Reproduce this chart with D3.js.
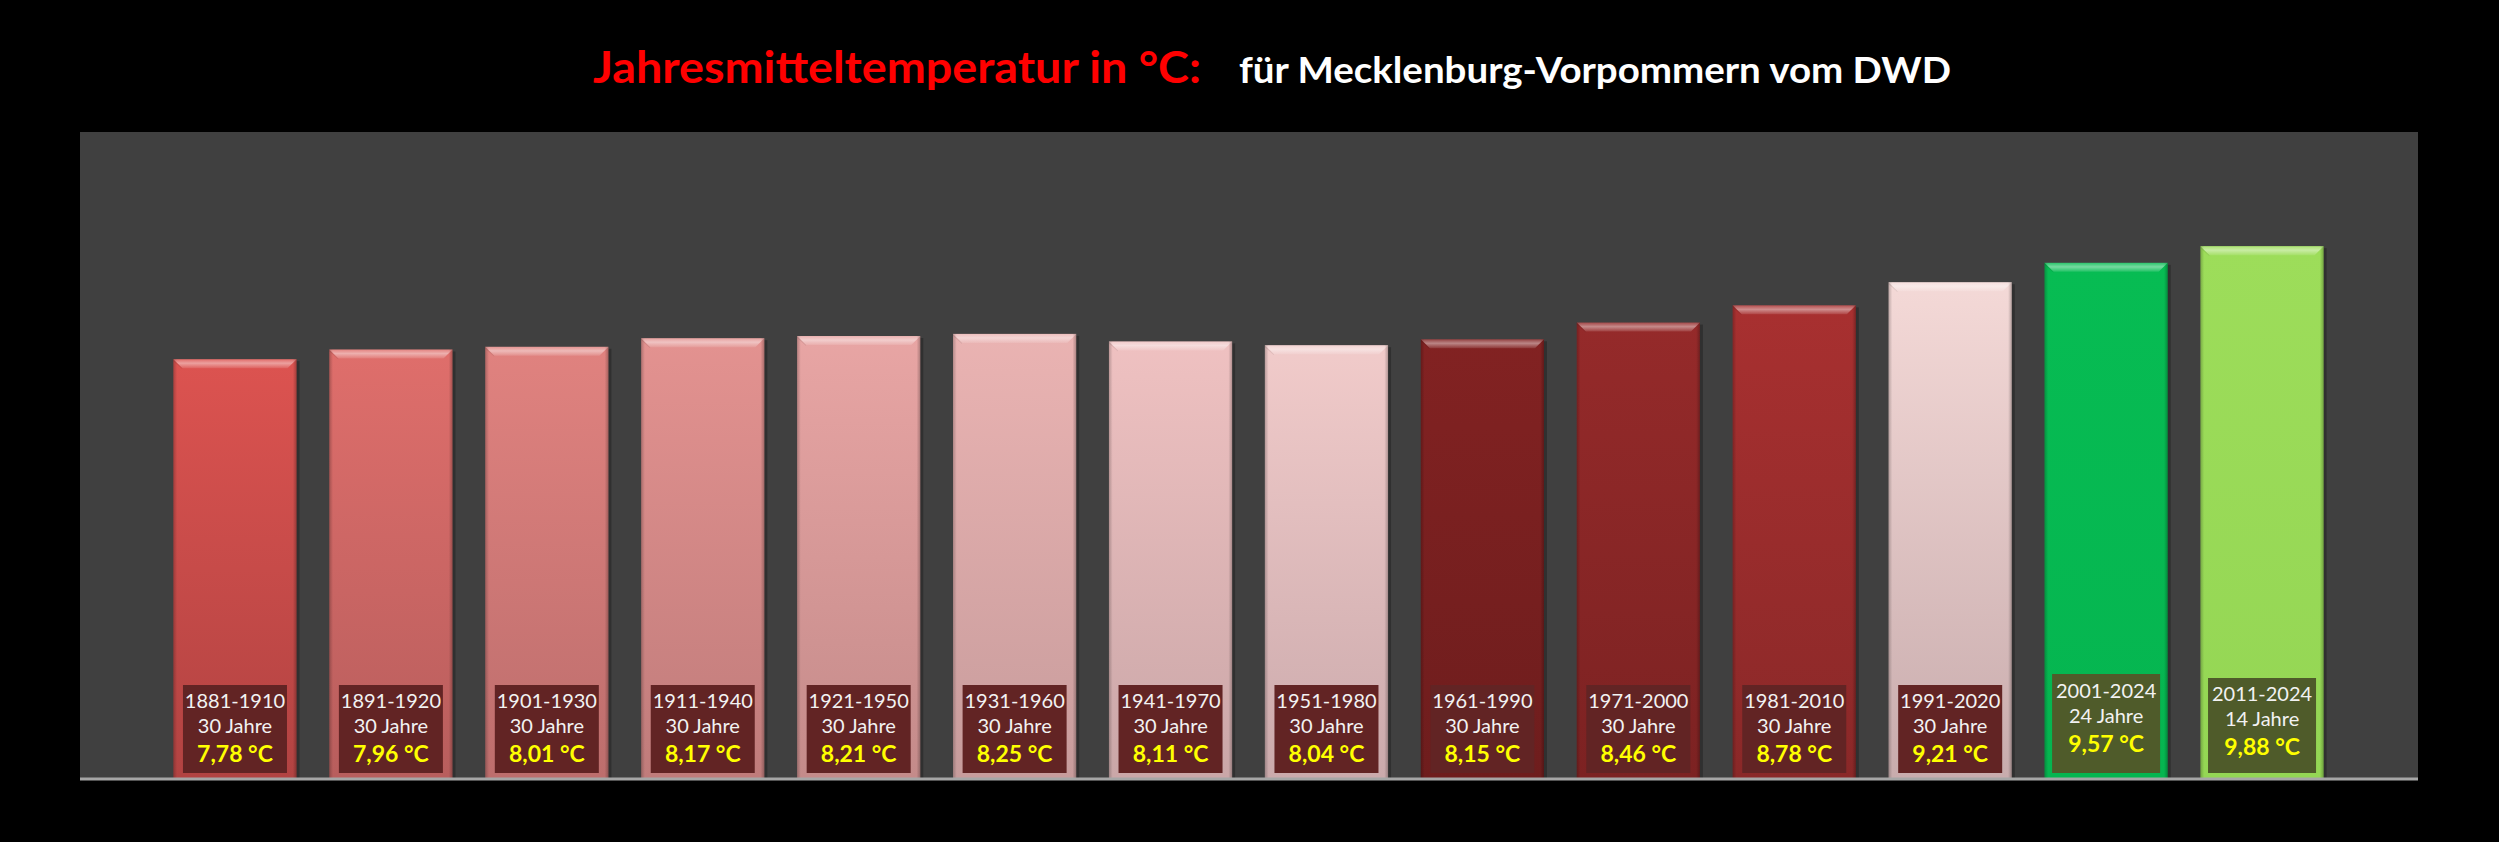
<!DOCTYPE html>
<html><head><meta charset="utf-8">
<script src="https://cdn.jsdelivr.net/npm/d3@7"></script>
<style>html,body{margin:0;padding:0;background:#000;}svg{display:block;}</style>
</head><body><div id="chart"></div>
<script>
const periods = ["1881-1910","1891-1920","1901-1930","1911-1940","1921-1950","1931-1960","1941-1970","1951-1980","1961-1990","1971-2000","1981-2010","1991-2020","2001-2024","2011-2024"];
const years = [30,30,30,30,30,30,30,30,30,30,30,30,24,14];
const values = [7.78,7.96,8.01,8.17,8.21,8.25,8.11,8.04,8.15,8.46,8.78,9.21,9.57,9.88];
const yTicks = [0,12];
const titleMain = "Jahresmitteltemperatur in °C:";
const titleSub = "für Mecklenburg-Vorpommern vom DWD";

const topColors = ["#DC5350","#DF6E6B","#E0827F","#E39290","#E8A5A4","#EAB3B2","#EFC1C1","#F1CBCA","#822222","#952A2A","#A83030","#F4D9D7","#07BC53","#9DDD5A"];
const botColors = ["#B24342","#B85E5D","#BD6E6D","#C07C7B","#C48B8A","#C79C9C","#CAA7A8","#CBAAAC","#6E1D1D","#7C2222","#8A2828","#C8ACAD","#05B550","#94D654"];

const W = 2499, H = 842;
const fmt = v => d3.format(".2f")(v).replace(".", ",") + " °C";

const svg = d3.select("#chart").append("svg").attr("width", W).attr("height", H);
svg.append("rect").attr("width", W).attr("height", H).attr("fill", "#000");

const plot = {x0: 80, x1: 2418, y0: 132, y1: 778};
svg.append("rect").attr("x", plot.x0).attr("y", plot.y0)
  .attr("width", plot.x1 - plot.x0).attr("height", plot.y1 - plot.y0).attr("fill", "#404040");

const x = d3.scaleBand().domain(periods).range([157, 2340]).paddingInner(0.21).paddingOuter(0.105);
const y = d3.scaleLinear().domain(d3.extent(yTicks)).range([plot.y1, plot.y0]);

const defs = svg.append("defs");
periods.forEach((p, i) => {
  const g = defs.append("linearGradient").attr("id", "g" + i).attr("x1", 0).attr("y1", 0).attr("x2", 0).attr("y2", 1);
  g.append("stop").attr("offset", "0%").attr("stop-color", topColors[i]);
  g.append("stop").attr("offset", "100%").attr("stop-color", botColors[i]);
  const s = defs.append("linearGradient").attr("id", "s" + i).attr("x1", 0).attr("y1", 0).attr("x2", 1).attr("y2", 0);
  s.append("stop").attr("offset", "0%").attr("stop-color", "#000").attr("stop-opacity", 0.22);
  s.append("stop").attr("offset", "3%").attr("stop-color", "#000").attr("stop-opacity", 0);
  s.append("stop").attr("offset", "97%").attr("stop-color", "#000").attr("stop-opacity", 0);
  s.append("stop").attr("offset", "100%").attr("stop-color", "#000").attr("stop-opacity", 0.25);
});
const bev = defs.append("linearGradient").attr("id", "bev").attr("x1", 0).attr("y1", 0).attr("x2", 0).attr("y2", 1);
bev.append("stop").attr("offset", "0%").attr("stop-color", "#fff").attr("stop-opacity", 0.15);
bev.append("stop").attr("offset", "45%").attr("stop-color", "#fff").attr("stop-opacity", 0.45);
bev.append("stop").attr("offset", "100%").attr("stop-color", "#fff").attr("stop-opacity", 0.1);

const bars = svg.append("g").selectAll("g").data(periods).join("g");
// shadow
bars.append("rect")
  .attr("x", d => x(d) + 3).attr("y", (d, i) => y(values[i]) + 2)
  .attr("width", x.bandwidth()).attr("height", (d, i) => y(0) - y(values[i]) - 2)
  .attr("fill", "#000").attr("opacity", 0.25);
bars.append("rect")
  .attr("x", d => x(d)).attr("y", (d, i) => y(values[i]))
  .attr("width", x.bandwidth()).attr("height", (d, i) => y(0) - y(values[i]))
  .attr("fill", (d, i) => `url(#g${i})`);
bars.append("rect")
  .attr("x", d => x(d)).attr("y", (d, i) => y(values[i]))
  .attr("width", x.bandwidth()).attr("height", (d, i) => y(0) - y(values[i]))
  .attr("fill", (d, i) => `url(#s${i})`);
const bv = 9;
bars.append("path")
  .attr("d", (d, i) => {
    const x0 = x(d), x1 = x(d) + x.bandwidth(), t = y(values[i]);
    return `M${x0},${t}L${x1},${t}L${x1 - bv},${t + bv}L${x0 + bv},${t + bv}Z`;
  })
  .attr("fill", "url(#bev)");
bars.append("path")
  .attr("d", (d, i) => {
    const x0 = x(d), x1 = x(d) + x.bandwidth(), t = y(values[i]);
    return `M${x0},${t}L${x0 + bv},${t + bv}L${x0 + bv},${t + bv + 1}L${x0},${t + 2}Z`;
  })
  .attr("fill", "#000").attr("opacity", 0.08);

// axis line
svg.append("line").attr("x1", plot.x0).attr("x2", plot.x1).attr("y1", plot.y1 + 1).attr("y2", plot.y1 + 1)
  .attr("stroke", "#A6A6A6").attr("stroke-width", 3);

// label boxes
const isGreen = i => years[i] !== 30;
const labels = svg.append("g").selectAll("g").data(periods).join("g")
  .attr("transform", d => `translate(${x(d) + x.bandwidth() / 2},0)`);
labels.append("rect")
  .attr("x", (d, i) => isGreen(i) ? -54 : -52)
  .attr("width", (d, i) => isGreen(i) ? 108 : 104)
  .attr("y", (d, i) => i === 12 ? y(0) - 104 : (i === 13 ? y(0) - 100 : y(0) - 93))
  .attr("height", (d, i) => i === 12 ? 99 : (i === 13 ? 95 : 88))
  .attr("fill", (d, i) => isGreen(i) ? "#4F5B2A" : "#622424");
const off = i => i === 12 ? -10 : (i === 13 ? -7 : 0);
labels.append("text").attr("text-anchor", "middle")
  .attr("y", (d, i) => y(0) - 70 + off(i))
  .attr("font-family", "Lato, 'Open Sans', sans-serif").attr("font-size", 20)
  .attr("fill", "#F2F2F2").text(d => d);
labels.append("text").attr("text-anchor", "middle")
  .attr("y", (d, i) => y(0) - 45 + off(i))
  .attr("font-family", "Lato, 'Open Sans', sans-serif").attr("font-size", 20)
  .attr("fill", "#F2F2F2").text((d, i) => years[i] + " Jahre");
labels.append("text").attr("text-anchor", "middle")
  .attr("y", (d, i) => y(0) - 16 + off(i))
  .attr("font-family", "Lato, 'Open Sans', sans-serif").attr("font-size", 23).attr("font-weight", "bold")
  .attr("fill", "#FFFF00").text((d, i) => fmt(values[i]));

// title
svg.append("text").attr("x", 593).attr("y", 83)
  .attr("font-family", "Lato, 'Open Sans', sans-serif").attr("font-weight", "bold").attr("font-size", 43)
  .attr("fill", "#FF0000").attr("textLength", 608).attr("lengthAdjust", "spacingAndGlyphs")
  .text(titleMain);
svg.append("text").attr("x", 1239).attr("y", 83)
  .attr("font-family", "Lato, 'Open Sans', sans-serif").attr("font-weight", "bold").attr("font-size", 37)
  .attr("fill", "#FFFFFF").attr("textLength", 712).attr("lengthAdjust", "spacingAndGlyphs")
  .text(titleSub);
</script></body></html>
